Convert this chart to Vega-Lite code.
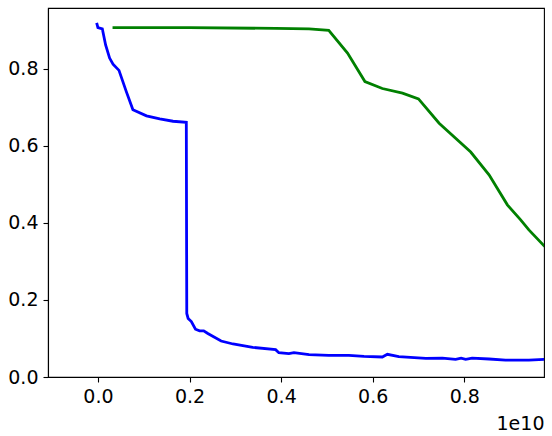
{
  "$schema": "https://vega.github.io/schema/vega-lite/v6.json",
  "width": 496,
  "height": 369,
  "autosize": {"type": "none"},
  "padding": {"left": 48, "top": 8, "right": 8, "bottom": 59},
  "background": "white",
  "config": {
    "view": {"stroke": "black", "strokeWidth": 1.1},
    "font": "DejaVu Sans",
    "axis": {
      "grid": false,
      "domainColor": "black",
      "domainWidth": 1.1,
      "tickColor": "black",
      "tickSize": 5,
      "tickWidth": 1.1,
      "labelFont": "DejaVu Sans",
      "labelFontSize": 19,
      "labelColor": "black",
      "labelPadding": 5
    }
  },
  "data": {
    "values": [
      {"s": "a", "i": 1, "x": -0.02e9, "y": 0.916},
      {"s": "a", "i": 2, "x": 0.0e9, "y": 0.907},
      {"s": "a", "i": 3, "x": 0.096e9, "y": 0.904},
      {"s": "a", "i": 4, "x": 0.168e9, "y": 0.862},
      {"s": "a", "i": 5, "x": 0.255e9, "y": 0.828},
      {"s": "a", "i": 6, "x": 0.33e9, "y": 0.812},
      {"s": "a", "i": 7, "x": 0.46e9, "y": 0.796},
      {"s": "a", "i": 8, "x": 0.62e9, "y": 0.741},
      {"s": "a", "i": 9, "x": 0.764e9, "y": 0.694},
      {"s": "a", "i": 10, "x": 1.06e9, "y": 0.678},
      {"s": "a", "i": 11, "x": 1.35e9, "y": 0.670},
      {"s": "a", "i": 12, "x": 1.64e9, "y": 0.664},
      {"s": "a", "i": 13, "x": 1.93e9, "y": 0.661},
      {"s": "a", "i": 14, "x": 1.94e9, "y": 0.165},
      {"s": "a", "i": 15, "x": 1.97e9, "y": 0.152},
      {"s": "a", "i": 16, "x": 2.04e9, "y": 0.144},
      {"s": "a", "i": 17, "x": 2.13e9, "y": 0.124},
      {"s": "a", "i": 18, "x": 2.22e9, "y": 0.120},
      {"s": "a", "i": 19, "x": 2.31e9, "y": 0.120},
      {"s": "a", "i": 20, "x": 2.40e9, "y": 0.113},
      {"s": "a", "i": 21, "x": 2.69e9, "y": 0.0935},
      {"s": "a", "i": 22, "x": 2.95e9, "y": 0.0857},
      {"s": "a", "i": 23, "x": 3.38e9, "y": 0.077},
      {"s": "a", "i": 24, "x": 3.88e9, "y": 0.071},
      {"s": "a", "i": 25, "x": 3.95e9, "y": 0.063},
      {"s": "a", "i": 26, "x": 4.17e9, "y": 0.0605},
      {"s": "a", "i": 27, "x": 4.28e9, "y": 0.063},
      {"s": "a", "i": 28, "x": 4.61e9, "y": 0.058},
      {"s": "a", "i": 29, "x": 5.04e9, "y": 0.056},
      {"s": "a", "i": 30, "x": 5.48e9, "y": 0.056},
      {"s": "a", "i": 31, "x": 5.81e9, "y": 0.0535},
      {"s": "a", "i": 32, "x": 6.21e9, "y": 0.052},
      {"s": "a", "i": 33, "x": 6.32e9, "y": 0.059},
      {"s": "a", "i": 34, "x": 6.57e9, "y": 0.053},
      {"s": "a", "i": 35, "x": 7.16e9, "y": 0.0485},
      {"s": "a", "i": 36, "x": 7.52e9, "y": 0.049},
      {"s": "a", "i": 37, "x": 7.81e9, "y": 0.046},
      {"s": "a", "i": 38, "x": 7.93e9, "y": 0.049},
      {"s": "a", "i": 39, "x": 8.03e9, "y": 0.046},
      {"s": "a", "i": 40, "x": 8.17e9, "y": 0.049},
      {"s": "a", "i": 41, "x": 8.54e9, "y": 0.0467},
      {"s": "a", "i": 42, "x": 8.90e9, "y": 0.044},
      {"s": "a", "i": 43, "x": 9.41e9, "y": 0.044},
      {"s": "a", "i": 44, "x": 9.80e9, "y": 0.046},
      {"s": "b", "i": 1, "x": 0.35e9, "y": 0.907},
      {"s": "b", "i": 2, "x": 2.0e9, "y": 0.907},
      {"s": "b", "i": 3, "x": 3.88e9, "y": 0.905},
      {"s": "b", "i": 4, "x": 4.61e9, "y": 0.904},
      {"s": "b", "i": 5, "x": 5.04e9, "y": 0.900},
      {"s": "b", "i": 6, "x": 5.45e9, "y": 0.841},
      {"s": "b", "i": 7, "x": 5.83e9, "y": 0.767},
      {"s": "b", "i": 8, "x": 6.21e9, "y": 0.749},
      {"s": "b", "i": 9, "x": 6.65e9, "y": 0.737},
      {"s": "b", "i": 10, "x": 7.0e9, "y": 0.722},
      {"s": "b", "i": 11, "x": 7.45e9, "y": 0.659},
      {"s": "b", "i": 12, "x": 8.14e9, "y": 0.584},
      {"s": "b", "i": 13, "x": 8.54e9, "y": 0.525},
      {"s": "b", "i": 14, "x": 8.94e9, "y": 0.447},
      {"s": "b", "i": 15, "x": 9.23e9, "y": 0.408},
      {"s": "b", "i": 16, "x": 9.41e9, "y": 0.382},
      {"s": "b", "i": 17, "x": 9.74e9, "y": 0.341},
      {"s": "b", "i": 18, "x": 9.85e9, "y": 0.330}
    ]
  },
  "mark": {"type": "line", "strokeWidth": 2.8, "clip": true, "strokeCap": "square"},
  "encoding": {
    "x": {
      "field": "x",
      "type": "quantitative",
      "scale": {"domain": [-1.09e9, 9.74e9], "nice": false, "zero": false},
      "axis": {
        "values": [0, 2e9, 4e9, 6e9, 8e9],
        "labelExpr": "format(datum.value / 1e10, '.1f')",
        "title": "1e10",
        "titleFont": "DejaVu Sans",
        "titleFontSize": 19,
        "titleFontWeight": "normal",
        "titleColor": "black",
        "titleAnchor": "end",
        "titleAlign": "right",
        "titlePadding": 8
      }
    },
    "y": {
      "field": "y",
      "type": "quantitative",
      "scale": {"domain": [0, 0.958], "nice": false, "zero": false},
      "axis": {
        "values": [0, 0.2, 0.4, 0.6, 0.8],
        "format": ".1f",
        "title": null
      }
    },
    "color": {
      "field": "s",
      "type": "nominal",
      "scale": {"domain": ["a", "b"], "range": ["#0000ff", "#008000"]},
      "legend": null
    },
    "order": {"field": "i", "type": "quantitative"}
  }
}
